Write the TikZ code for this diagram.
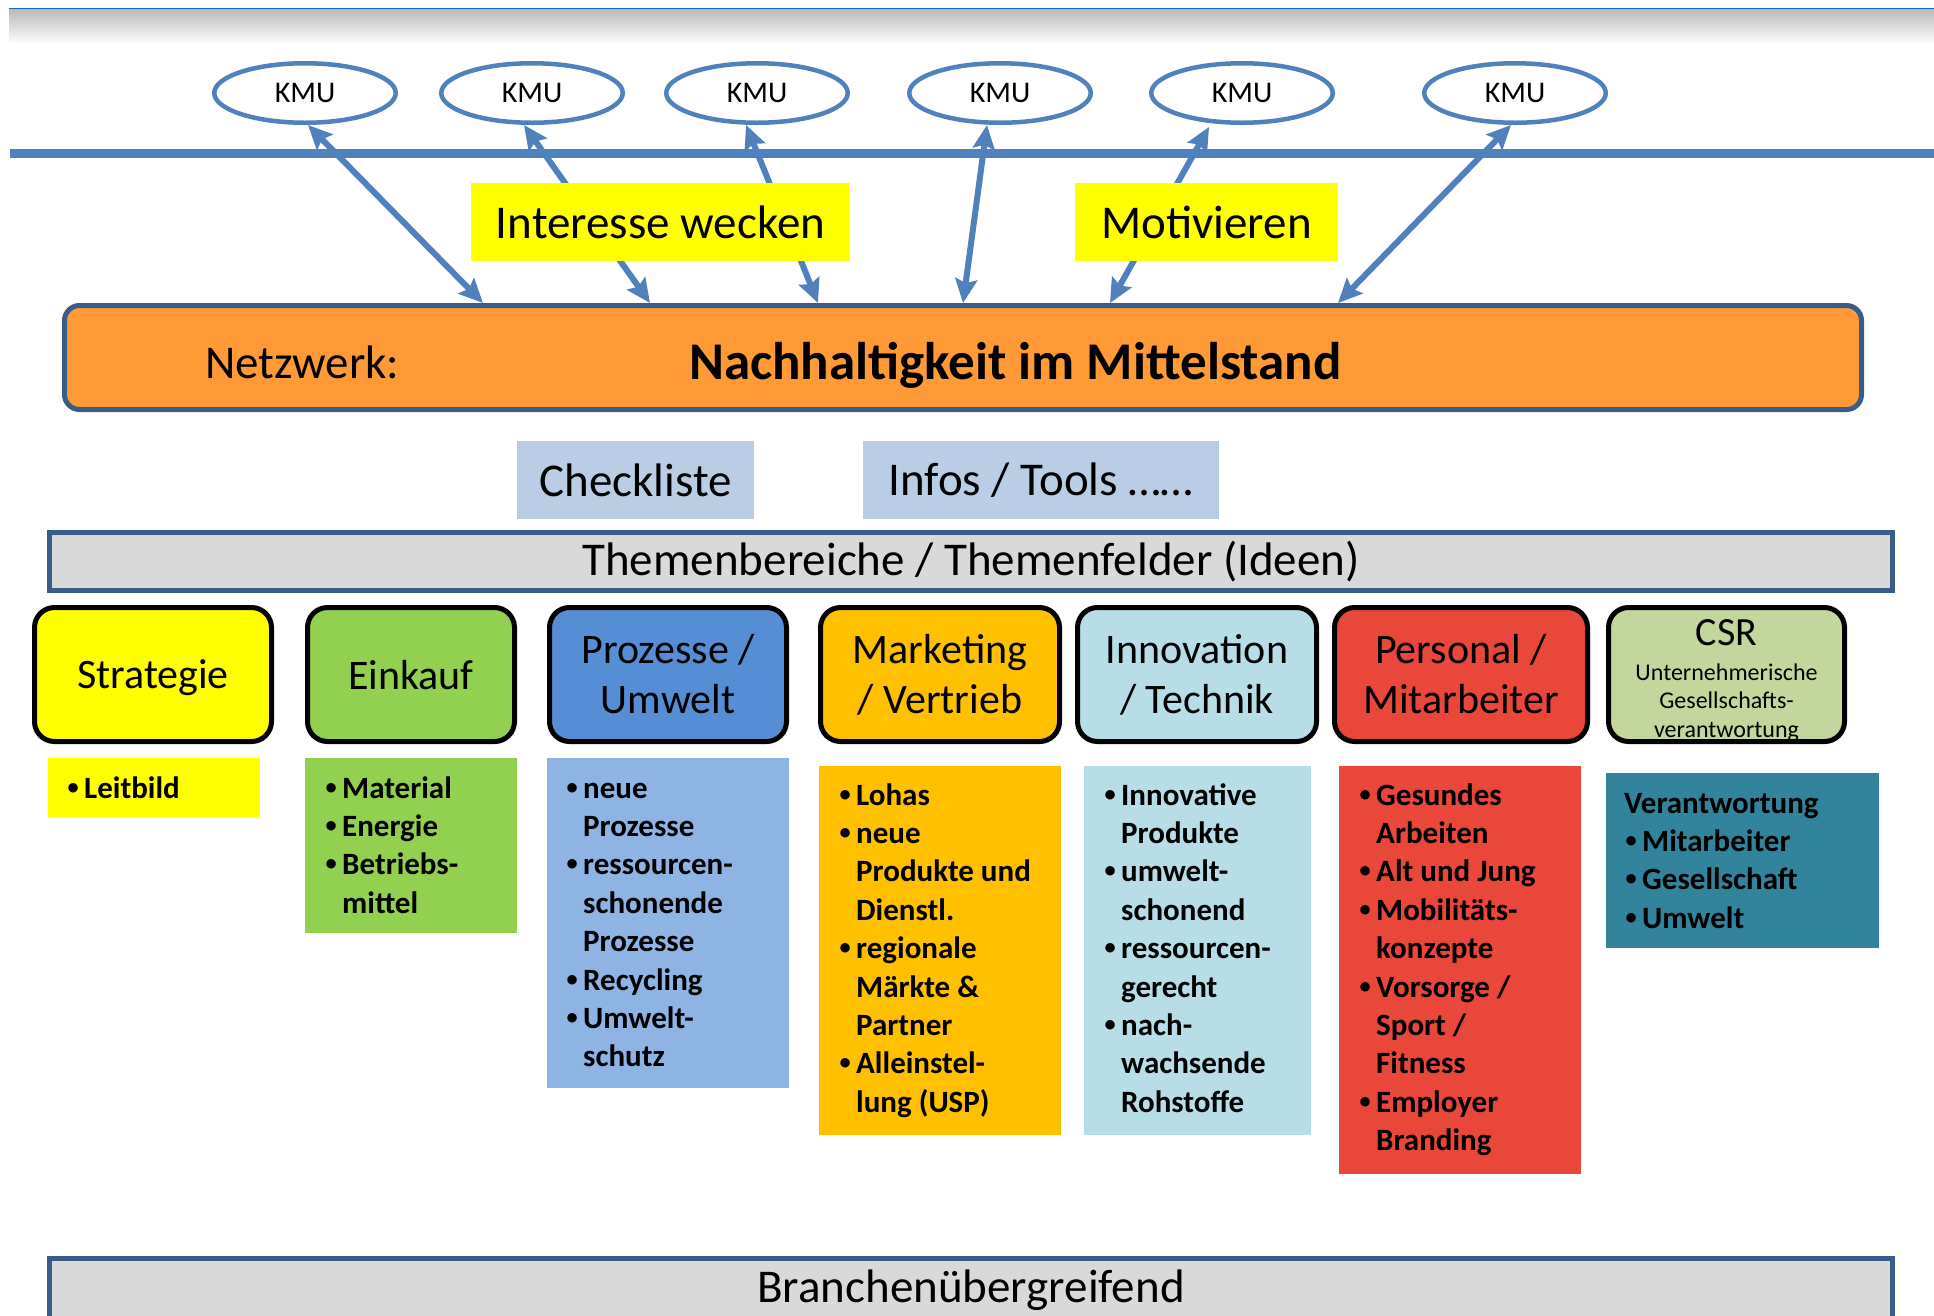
\documentclass[tikz,border=0pt]{standalone}
\usepackage{fontspec}
\usepackage{graphicx}
\setmainfont{Carlito}
\usetikzlibrary{arrows.meta,shapes.geometric}
\definecolor{abl}{HTML}{4F81BD}
\definecolor{bdb}{HTML}{385D8A}
\definecolor{org}{HTML}{FF9A36}
\definecolor{ylw}{HTML}{FFFF00}
\definecolor{grn}{HTML}{92D050}
\definecolor{pblue}{HTML}{558ED5}
\definecolor{pblueb}{HTML}{8EB4E3}
\definecolor{mgold}{HTML}{FFC000}
\definecolor{ilb}{HTML}{B7DEE8}
\definecolor{pred}{HTML}{E8473A}
\definecolor{csrg}{HTML}{C3D69B}
\definecolor{csrt}{HTML}{31849B}
\definecolor{chk}{HTML}{B9CDE5}
\definecolor{gry}{HTML}{D9D9D9}
\definecolor{topb}{HTML}{1565C0}
\newcommand{\bul}{\makebox[18pt][l]{\hspace{1.5pt}\raisebox{4pt}{\scalebox{0.72}{\textbullet}}}}
\newcommand{\ind}{\hspace*{18pt}}
\begin{document}
\begin{tikzpicture}[x=1pt,y=-1pt,
  fbig/.style={font=\fontsize{47}{56}\selectfont},
  kmu/.style={ellipse, draw=abl, line width=4.5pt, fill=white, minimum width=181.5pt, minimum height=59.5pt, inner sep=0pt, font=\fontsize{30}{36}\selectfont},
  lbl/.style={fill=ylw, minimum height=78pt, inner sep=0pt, fbig},
  tool/.style={fill=chk, minimum height=78pt, inner sep=0pt, fbig},
  bar/.style={draw=bdb, line width=5pt, fill=gry, minimum width=1843pt, inner sep=0pt, fbig},
  hdr/.style={draw=black, line width=5pt, rounded corners=20pt, minimum height=134pt, inner sep=0pt, align=center, font=\fontsize{42}{50}\selectfont},
  subbox/.style={anchor=north west, inner sep=0pt},
  lst/.style={anchor=base west, inner sep=0pt, align=left, font=\fontsize{31}{38.4}\selectfont\bfseries},
  conn/.style={abl, line width=6pt, {Stealth[length=24pt,width=22pt,inset=4pt]}-{Stealth[length=24pt,width=22pt,inset=4pt]}}]
\path[use as bounding box] (0,0) rectangle (1934,1315);
\clip (0,0) rectangle (1934,1315);

% top band
\shade[top color=gray!55, bottom color=white] (9,9) rectangle (1934,44);
\draw[topb, line width=1.5pt] (9,8.5) -- (1934,8.5);
% horizontal line
\draw[abl, line width=9pt] (10,153.5) -- (1934,153.5);

% KMU
\node[kmu] (k1) at (305,93) {KMU};
\node[kmu] (k2) at (532,93) {KMU};
\node[kmu] (k3) at (757,93) {KMU};
\node[kmu] (k4) at (1000,93) {KMU};
\node[kmu] (k5) at (1242,93) {KMU};
\node[kmu] (k6) at (1515,93) {KMU};

% network box
\node[draw=bdb, line width=5pt, fill=org, rounded corners=15pt, minimum width=1797pt, minimum height=104pt, inner sep=0pt] (net) at (963,357.5) {};
\node[anchor=base west, fbig, inner sep=0pt] (nw) at (205,378) {Netzwerk:};
\node[anchor=base west, inner sep=0pt, font=\fontsize{53}{60}\selectfont\bfseries] (nt) at (689,379) {Nachhaltigkeit im Mittelstand};

% arrow end points on the network box
\coordinate (o1) at (483,303);
\coordinate (o2) at (650,303);
\coordinate (o3) at (818,303);
\coordinate (o4) at (963,303);
\coordinate (o5) at (1110,303);
\coordinate (o6) at (1338,303);
\draw[conn] ([xshift=3pt]k1.south) -- (o1);
\draw[conn] ([xshift=-8pt]k2.south) -- (o2);
\draw[conn] ([xshift=-11pt]k3.south) -- (o3);
\draw[conn] ([xshift=-13pt]k4.south) -- (o4);
\draw[conn] ([xshift=-33pt,yshift=-2pt]k5.south) -- (o5);
\draw[conn] ([xshift=-4pt]k6.south) -- (o6);

% yellow labels
\node[lbl, minimum width=379pt] (iw) at (660.5,222) {Interesse wecken};
\node[lbl, minimum width=263pt] (mo) at (1206.5,222) {Motivieren};

% tools
\node[tool, minimum width=237pt] (cl) at (635.5,480) {Checkliste};
\node[tool, minimum width=356pt] (it) at (1041,480) {Infos / Tools ……};

% Themen bar
\node[bar, minimum height=58pt] (th) at (971,561.5) {Themenbereiche / Themenfelder (Ideen)};

% headers
\node[hdr, fill=ylw, minimum width=237pt, text depth=0pt] (hStr) at (153,674.5) {Strategie};
\node[hdr, fill=grn, minimum width=207pt, text depth=0pt] (hEin) at (411,674.5) {Einkauf};
\node[hdr, fill=pblue, minimum width=237pt] (hPro) at (668,674.5) {Prozesse /\\Umwelt};
\node[hdr, fill=mgold, minimum width=239pt] (hMar) at (940,674.5) {Marketing\\/ Vertrieb};
\node[hdr, fill=ilb, minimum width=239pt] (hInn) at (1197,674.5) {Innovation\\/ Technik};
\node[hdr, fill=pred, minimum width=253pt] (hPer) at (1461,674.5) {Personal /\\Mitarbeiter};
\node[hdr, fill=csrg, minimum width=236pt] (hCSR) at (1726.5,674.5) {};
\node[anchor=base, inner sep=0pt, font=\fontsize{40}{48}\selectfont] (csrT) at (1726.5,645) {CSR};
\node[anchor=base, inner sep=0pt, align=center, font=\fontsize{24}{28.6}\selectfont] (csrS) at (1726.5,{680+2*28.6}) {Unternehmerische\\Gesellschafts-\\verantwortung};

% sub boxes
\node[subbox, fill=ylw, minimum width=212pt, minimum height=59pt] (sStr) at (48,758) {};
\node[subbox, fill=grn, minimum width=212pt, minimum height=175pt] (sEin) at (305,758) {};
\node[subbox, fill=pblueb, minimum width=242pt, minimum height=330pt] (sPro) at (547,758) {};
\node[subbox, fill=mgold, minimum width=242pt, minimum height=369pt] (sMar) at (819,766) {};
\node[subbox, fill=ilb, minimum width=227pt, minimum height=369pt] (sInn) at (1084,766) {};
\node[subbox, fill=pred, minimum width=242pt, minimum height=408pt] (sPer) at (1339,766) {};
\node[subbox, fill=csrt, minimum width=273pt, minimum height=175pt] (sCSR) at (1606,773) {};

% list texts (anchor = baseline of the last line)
\node[lst] (tStr) at (66,798) {\bul Leitbild};
\node[lst] (tEin) at (324,{798+3*38.4}) {\bul Material\\\bul Energie\\\bul Betriebs-\\\ind mittel};
\node[lst] (tPro) at (565,{798+7*38.4}) {\bul neue\\\ind Prozesse\\\bul ressourcen-\\\ind schonende\\\ind Prozesse\\\bul Recycling\\\bul Umwelt-\\\ind schutz};
\node[lst] (tMar) at (838,{805+8*38.4}) {\bul Lohas\\\bul neue\\\ind Produkte und\\\ind Dienstl.\\\bul regionale\\\ind Märkte \&\\\ind Partner\\\bul Alleinstel-\\\ind lung (USP)};
\node[lst] (tInn) at (1103,{805+8*38.4}) {\bul Innovative\\\ind Produkte\\\bul umwelt-\\\ind schonend\\\bul ressourcen-\\\ind gerecht\\\bul nach-\\\ind wachsende\\\ind Rohstoffe};
\node[lst] (tPer) at (1358,{805+9*38.4}) {\bul Gesundes\\\ind Arbeiten\\\bul Alt und Jung\\\bul Mobilitäts-\\\ind konzepte\\\bul Vorsorge /\\\ind Sport /\\\ind Fitness\\\bul Employer\\\ind Branding};
\node[lst] (tCSR) at (1624,{813+3*38.4}) {Verantwortung\\\bul Mitarbeiter\\\bul Gesellschaft\\\bul Umwelt};

% bottom bar
\node[bar, minimum height=104pt] (br) at (971,1310) {};
\node[anchor=base, fbig, inner sep=0pt] (brt) at (971,1302) {Branchenübergreifend};
\end{tikzpicture}
\end{document}
